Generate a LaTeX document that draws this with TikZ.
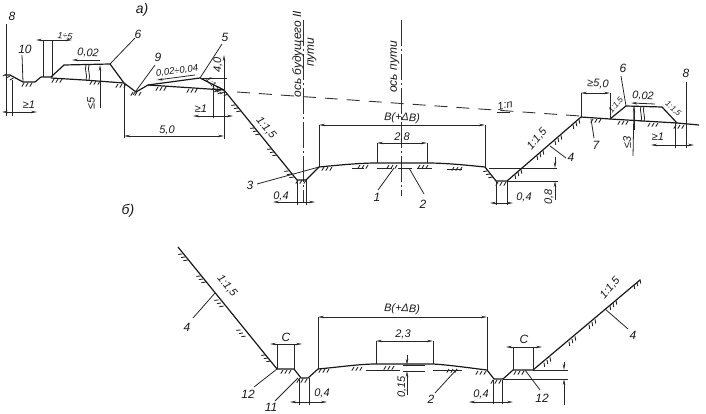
\documentclass[tikz,border=0pt]{standalone}
\usepackage{fontspec}
\setmainfont{Liberation Sans}
\usetikzlibrary{arrows.meta}
\tikzset{
  x=1pt,y=-1pt,
  prof/.style={line width=1.2pt,black!90},
  thinl/.style={line width=0.8pt,black!85},
  dimen/.style={line width=0.8pt,black!85,{Stealth[length=6pt,width=2.5pt]}-{Stealth[length=6pt,width=2.5pt]}},
  arrowl/.style={line width=0.8pt,black!85,-{Stealth[length=6pt,width=2.5pt]}},
  axisl/.style={line width=0.8pt,black!80,dash pattern=on 26pt off 3pt on 2pt off 3pt},
  grade/.style={line width=0.9pt,black!80,dash pattern=on 13pt off 9pt},
  lab/.style={inner sep=0pt,font=\itshape\fontsize{12}{13}\selectfont,text=black!90},
  labs/.style={inner sep=0pt,font=\itshape\fontsize{11}{12}\selectfont,text=black!90},
  labt/.style={inner sep=0pt,font=\itshape\fontsize{8}{9}\selectfont,text=black!90},
  axt/.style={inner sep=0pt,rotate=90,font=\itshape\fontsize{12}{13}\selectfont,text=black!90},
  hatch/.pic={\draw[line width=0.9pt,black!85] (-4,0)--(-6.2,3.6) (0,0)--(-2.2,3.6) (4,0)--(1.8,3.6);}
}
\newcommand{\hh}[3]{\pic[rotate=#3] at (#1,#2) {hatch};}
\newcommand{\breakm}[3]{\draw[thinl] (#1,#2) .. controls (#1-2,#2+5) and (#1+2,#3-5) .. (#1,#3);
  \draw[thinl] (#1+3,#2) .. controls (#1+1,#2+5) and (#1+5,#3-5) .. (#1+3,#3);}
\begin{document}
\begin{tikzpicture}
\useasboundingbox (0,0) rectangle (706,414);
% --- upper profile
\draw[grade] (237,92) -- (580,116);
\draw[axisl] (303,20) -- (303,202);
\draw[axisl] (401,20) -- (401,196);
\draw[prof] (5,75)--(10,75)--(23,82)--(35,82)--(41,77)--(51,77)--(64,65)--(110,64)--(124,83)--(136,92)--(148,85)--(200,78)--(224,90)--(297,180)--(306,180)--(319,167)
  .. controls (340,165) and (360,163) .. (377,163) -- (427,163) .. controls (445,163) and (465,165) .. (485,167)
  --(496,181)--(507,181)--(581,117)--(610,119)--(626,106)--(662,107)--(677,123)--(699,125);
\draw[prof] (51,78)--(84,80)--(124,83);
\draw[prof] (148,85)--(224,90);
\draw[prof] (610,119)--(677,123);
\breakm{86}{65}{80}
% upper hatches
\hh{10}{76}{-30}\hh{28}{83}{0}\hh{58}{79}{0}\hh{96}{81}{0}\hh{122}{84}{0}\hh{137}{92}{0}
\hh{162}{87}{0}\hh{193}{89}{0}\hh{218}{90}{-30}\hh{224}{92}{-30}
\hh{238}{108}{-51}\hh{257}{131}{-51}\hh{274}{152}{-51}\hh{291}{174}{-51}
\hh{302}{180}{0}\hh{328}{167}{0}\hh{364}{165}{0}\hh{393}{165}{0}\hh{424}{165}{0}\hh{458}{167}{0}\hh{490}{174}{-50}\hh{502}{182}{0}
\hh{518}{172}{41}\hh{540}{153}{41}\hh{558}{138}{41}\hh{576}{122}{41}
\hh{597}{119}{0}\hh{624}{121}{0}\hh{654}{123}{0}\hh{680}{125}{0}
% road under-lines
\draw[thinl] (352,168)--(364,168) (377,168)--(392,168) (398,168)--(412,168) (417,168)--(432,168) (447,169)--(462,169);
% left side dims
\draw[thinl] (6,24)--(6,116) (12,80)--(12,116);
\draw[dimen] (2,112)--(37,112);
\draw[thinl] (43,40)--(43,77) (52,40)--(52,77);
\draw[dimen] (36,40)--(72,40);
\draw[thinl] (22,55)--(23,82);
\draw[arrowl] (100,60)--(72,60);
\draw[arrowl] (100,108)--(100,65);
\draw[thinl] (110,64)--(135,38);
\draw[thinl] (133,95)--(155,65);
\draw[arrowl] (195,75)--(157,80);
\draw[thinl] (200,78)--(222,44);
\draw[arrowl] (224,90)--(224,55);
\draw[thinl] (200,78)--(227,78);
\draw[thinl] (124,83)--(124,138) (224,90)--(224,139) (213,85)--(213,118);
\draw[dimen] (124,136)--(224,136);
\draw[dimen] (193,116)--(233,116);
\draw[thinl] (257,184)--(319,167);
\draw[thinl] (297,180)--(297,205) (306,180)--(306,205);
\draw[dimen] (273,202)--(315,202);
% centre dims
\draw[thinl] (319,125)--(319,167) (485,125)--(485,167) (377,143)--(377,163) (427,143)--(427,163);
\draw[dimen] (319,125)--(485,125);
\draw[dimen] (377,143)--(427,143);
\draw[thinl] (394,168)--(378,190) (409,168)--(424,194);
% right dims
\draw[thinl] (496,181)--(496,205) (507,181)--(507,205);
\draw[dimen] (490,203)--(513,203);
\draw[thinl] (489,168)--(557,168) (507,181)--(558,181);
\draw[arrowl] (555,200)--(555,181);
\draw[arrowl] (555,157)--(555,168);
\draw[thinl] (550,146)--(566,158);
\draw[thinl] (581,93)--(581,118) (610,93)--(610,119);
\draw[dimen] (581,93)--(610,93);
\draw[thinl] (591,119)--(594,138);
\draw[thinl] (626,106)--(621,76);
\draw[arrowl] (655,104)--(631,103);
\breakm{641}{106}{122}
\draw[thinl] (633,156)--(634,106);
\draw[arrowl] (634,130)--(634,106);
\draw[thinl] (675,123)--(675,148) (686,82)--(686,148);
\draw[dimen] (651,145)--(694,145);
% --- upper labels
\node[lab,font=\itshape\fontsize{14}{15}\selectfont] (ta) at (142,10) {а)};
\node[lab] (l8a) at (12,16) {8};
\node[lab] (l10) at (25,49) {10};
\node[labs,font=\itshape\fontsize{9}{10}\selectfont,rotate=-5] (l15a) at (65,36) {1÷5};
\node[labs,rotate=-3] (l002a) at (88,53) {0,02};
\node[labs,rotate=90] (l5a) at (91,103) {≤5};
\node[lab] (l6a) at (138,34) {6};
\node[lab] (l9) at (158,57) {9};
\node[labs,font=\itshape\fontsize{9.5}{10}\selectfont,rotate=7] (l004) at (177,71) {0,02÷0,04};
\node[lab] (l5b) at (225,37) {5};
\node[labs,rotate=90] (l40) at (218,65) {4,0};
\node[labt,rotate=-50] (l15s) at (213,85) {1:1,5};
\node[labs] (g1a) at (29,105) {≥1};
\node[labs] (g1b) at (201,109) {≥1};
\node[labs] (l50) at (167,130) {5,0};
\node[labs,rotate=-50] (l15b) at (266,128) {1:1,5};
\node[lab] (l3) at (250,185) {3};
\node[labs] (l04a) at (281,196) {0,4};
\node[axt] (ax1) at (298,54) {ось будущего II};
\node[axt] (ax1b) at (312,52) {пути};
\node[axt] (ax2) at (395,67) {ось пути};
\node[labs,rotate=-2] (lB) at (402,118) {В(+ΔВ)};
\node[labs] (l28) at (402,137) {2,8};
\node[lab] (l1) at (377,197) {1};
\node[lab] (l2) at (423,204) {2};
\node[labs,rotate=10] (l1n) at (505,105) {1:п};
\draw[thinl] (497,112)--(510,112);
\node[labs] (l04b) at (524,197) {0,4};
\node[labs,rotate=90] (l08) at (549,197) {0,8};
\node[labs,rotate=50] (l15c) at (537,139) {1:1,5};
\node[lab] (l4a) at (571,157) {4};
\node[lab] (l7) at (596,145) {7};
\node[labs,rotate=-3] (l50b) at (598,84) {≥5,0};
\node[labt,rotate=50] (l15d) at (616,105) {1:1,5};
\node[lab] (l6b) at (623,68) {6};
\node[labs,rotate=-3] (l002b) at (643,96) {0,02};
\node[labs,rotate=90] (l3b) at (627,142) {≤3};
\node[labt,rotate=-40] (l15e) at (673,109) {1:1,5};
\node[lab] (l8b) at (686,73) {8};
\node[labs] (g1c) at (658,137) {≥1};
% --- lower profile
\node[lab,font=\itshape\fontsize{14}{15}\selectfont] (tb) at (128,211) {б)};
\draw[prof] (178,247)--(277,369)--(294,369)--(301,378)--(308,378)--(318,369)
  .. controls (340,367) and (360,364) .. (376,364) -- (433,364) .. controls (450,365) and (470,368) .. (487,370)
  --(494,379)--(503,379)--(513,370)--(533,370)--(640,280);
\hh{185}{257}{-51}\hh{203}{279}{-51}\hh{221}{303}{-51}\hh{243}{333}{-51}\hh{268}{358}{-51}
\hh{287}{370}{0}\hh{303}{379}{0}\hh{325}{369}{0}\hh{358}{367}{0}\hh{390}{366}{0}\hh{453}{369}{0}\hh{482}{371}{0}\hh{497}{380}{0}\hh{520}{371}{0}
\hh{547}{360}{41}\hh{572}{339}{41}\hh{592}{322}{41}\hh{613}{303}{41}\hh{637}{282}{41}
\draw[thinl] (366,370)--(400,370) (433,370)--(462,370);
\draw[thinl] (318,317)--(318,369) (487,317)--(487,370) (376,341)--(376,364) (433,341)--(433,364);
\draw[dimen] (318,317)--(487,317);
\draw[dimen] (376,341)--(433,341);
\draw[arrowl] (407,395)--(407,371);
\draw[arrowl] (407,355)--(407,365);
\draw[thinl] (403,365)--(425,365) (403,371)--(425,371);
\draw[thinl] (277,344)--(277,369) (294,344)--(294,369);
\draw[dimen] (270,344)--(302,344);
\draw[thinl] (299,378)--(299,405) (309,378)--(309,405);
\draw[dimen] (290,402)--(327,402);
\draw[thinl] (298,378)--(275,401) (277,369)--(254,387) (215,293)--(193,318);
\draw[thinl] (493,380)--(493,404) (502,380)--(502,404);
\draw[dimen] (469,402)--(513,402);
\draw[thinl] (513,347)--(513,370) (533,347)--(533,370);
\draw[dimen] (506,347)--(542,347);
\draw[thinl] (525,370)--(540,390) (457,369)--(435,393) (605,309)--(628,329);
\draw[thinl] (533,370)--(568,370) (503,379)--(568,379);
\draw[arrowl] (564,405)--(564,379);
\draw[arrowl] (564,362)--(564,370);
% lower labels
\node[labs,rotate=-50] (m15a) at (227,286) {1:1,5};
\node[lab] (m4a) at (187,327) {4};
\node[lab] (m12a) at (248,394) {12};
\node[lab] (m11) at (271,407) {11};
\node[lab] (mCa) at (286,337) {C};
\node[labs] (m04a) at (322,393) {0,4};
\node[labs,rotate=-2] (mB) at (402,309) {В(+ΔВ)};
\node[labs] (m23) at (403,334) {2,3};
\node[labs,rotate=90] (m015) at (402,387) {0,15};
\node[lab] (m2) at (431,399) {2};
\node[labs] (m04b) at (481,394) {0,4};
\node[lab] (mCb) at (524,339) {C};
\node[lab] (m12b) at (542,398) {12};
\node[labs,rotate=50] (m15b) at (610,288) {1:1,5};
\node[lab] (m4b) at (633,335) {4};
\end{tikzpicture}
\end{document}
